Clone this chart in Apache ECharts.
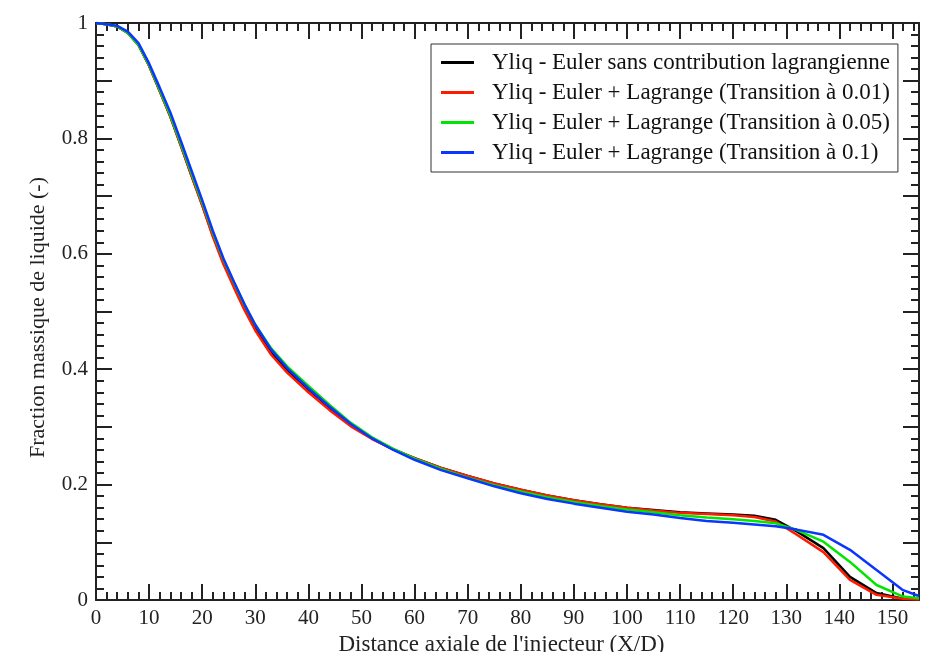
<!DOCTYPE html>
<html>
<head>
<meta charset="utf-8">
<script src="https://cdn.jsdelivr.net/npm/echarts@6/dist/echarts.min.js"></script>
<style>
html,body{margin:0;padding:0;background:#fff;}
#chart{width:925px;height:652px;}
</style>
</head>
<body>
<div id="chart"></div>
<script>
const seriesNames = [
  "Yliq - Euler sans contribution lagrangienne",
  "Yliq - Euler + Lagrange (Transition à 0.01)",
  "Yliq - Euler + Lagrange (Transition à 0.05)",
  "Yliq - Euler + Lagrange (Transition à 0.1)"
];
const xValues = [0,2,4,6,8,10,12,14,16,18,20,22,24,26,28,30,33,36,40,44,48,52,56,60,65,70,75,80,85,90,95,100,105,110,115,120,124,128,132,137,142,147,152,155];
const yEuler = [1.000,0.998,0.994,0.983,0.962,0.926,0.882,0.838,0.787,0.735,0.685,0.632,0.585,0.545,0.506,0.472,0.430,0.399,0.365,0.333,0.303,0.280,0.261,0.246,0.229,0.215,0.202,0.191,0.181,0.173,0.166,0.160,0.156,0.152,0.150,0.148,0.146,0.139,0.119,0.090,0.040,0.012,0.002,0.001];
const yTrans001 = [1.000,0.998,0.994,0.983,0.962,0.926,0.882,0.838,0.787,0.735,0.684,0.630,0.582,0.541,0.502,0.467,0.425,0.394,0.360,0.329,0.301,0.279,0.261,0.246,0.229,0.215,0.202,0.191,0.181,0.173,0.166,0.160,0.155,0.151,0.149,0.147,0.144,0.136,0.113,0.083,0.035,0.009,0.002,0.001];
const yTrans005 = [1.000,0.998,0.994,0.983,0.962,0.927,0.884,0.840,0.790,0.739,0.689,0.637,0.590,0.550,0.511,0.477,0.436,0.405,0.371,0.338,0.307,0.282,0.262,0.245,0.227,0.212,0.199,0.188,0.178,0.170,0.163,0.157,0.152,0.147,0.143,0.140,0.137,0.133,0.121,0.101,0.066,0.026,0.006,0.003];
const yTrans01 = [1.000,0.998,0.995,0.985,0.965,0.930,0.888,0.845,0.795,0.744,0.693,0.640,0.592,0.551,0.512,0.477,0.434,0.402,0.367,0.335,0.305,0.280,0.260,0.243,0.225,0.211,0.197,0.185,0.175,0.167,0.160,0.153,0.148,0.142,0.137,0.134,0.131,0.128,0.122,0.113,0.087,0.052,0.017,0.007];
const seriesValues = [yEuler, yTrans001, yTrans005, yTrans01];
const colors = ['#000000','#ff1a00','#00e600','#0a36ff'];
const xMajorTicks = [0,10,20,30,40,50,60,70,80,90,100,110,120,130,140,150];
const yTickLabels = ['0','0.2','0.4','0.6','0.8','1'];

const FONT = 'Liberation Serif';
const AX = '#222';

function pairs(ys){ return xValues.map((x,i)=>[x, ys[i]]); }

const gridPos = {left:96, right:6, top:23, bottom:52, containLabel:false, outerBoundsMode:'none'};
const chart = echarts.init(document.getElementById('chart'));

const xMajorCommon = {
  type:'value', min:0, max:155, interval:10,
  axisLine:{show:true, onZero:false, lineStyle:{color:AX, width:2}},
  axisTick:{show:true, inside:true, length:16, lineStyle:{color:AX, width:2}},
  splitLine:{show:false}
};
const xMinorCommon = {
  type:'value', min:0, max:155, interval:2,
  axisLine:{show:false, onZero:false},
  axisTick:{show:true, inside:true, length:8, lineStyle:{color:AX, width:2}},
  axisLabel:{show:false},
  splitLine:{show:false}
};
const yCommon = {
  type:'value', min:0, max:1, interval:0.1,
  axisLine:{show:true, onZero:false, lineStyle:{color:AX, width:2}},
  axisTick:{show:true, inside:true, length:16, lineStyle:{color:AX, width:2}},
  minorTick:{show:true, splitNumber:5, length:8, lineStyle:{color:AX, width:2}},
  splitLine:{show:false}
};

const option = {
  animation:false,
  backgroundColor:'#ffffff',
  grid:[Object.assign({}, gridPos), Object.assign({}, gridPos)],
  xAxis:[
    Object.assign({}, xMajorCommon, {
      gridIndex:0, position:'bottom',
      name:"Distance axiale de l'injecteur (X/D)", nameLocation:'middle', nameGap:25,
      nameTextStyle:{fontFamily:FONT, fontSize:23, color:AX, padding:[0,12,0,0]},
      axisLabel:{show:true, margin:8, fontFamily:FONT, fontSize:21, color:AX,
        formatter:function(v){ return xMajorTicks.indexOf(v) >= 0 ? String(v) : ''; }}
    }),
    Object.assign({}, xMajorCommon, {gridIndex:0, position:'top', axisLabel:{show:false}}),
    Object.assign({}, xMinorCommon, {gridIndex:1, position:'bottom'}),
    Object.assign({}, xMinorCommon, {gridIndex:1, position:'top'})
  ],
  yAxis:[
    Object.assign({}, yCommon, {
      gridIndex:0, position:'left',
      name:'Fraction massique de liquide (-)', nameLocation:'middle', nameGap:47,
      nameTextStyle:{fontFamily:FONT, fontSize:22, color:AX, padding:[0,12,0,0]},
      axisLabel:{show:true, margin:8, fontFamily:FONT, fontSize:21, color:AX,
        formatter:function(v){ const k = Math.round(v*10); return (k % 2 === 0) ? yTickLabels[k/2] : ''; }}
    }),
    Object.assign({}, yCommon, {gridIndex:0, position:'right', axisLabel:{show:false}}),
    {type:'value', gridIndex:1, min:0, max:1, show:false}
  ],
  legend:{
    show:true, orient:'vertical', left:431, top:44,
    data:seriesNames,
    icon:'rect', itemWidth:33, itemHeight:3, itemGap:7,
    padding:[7,8,8,10],
    backgroundColor:'#ffffff', borderColor:'#333', borderWidth:1,
    textStyle:{fontFamily:FONT, fontSize:23, color:'#111', padding:[0,0,0,13]}
  },
  series: seriesNames.map((name,i)=>({
    name:name, type:'line', xAxisIndex:0, yAxisIndex:0,
    data:pairs(seriesValues[i]), showSymbol:false, symbol:'none',
    smooth:false, clip:true,
    lineStyle:{color:colors[i], width:2.5}, itemStyle:{color:colors[i]}
  }))
};
chart.setOption(option);
</script>
</body>
</html>
